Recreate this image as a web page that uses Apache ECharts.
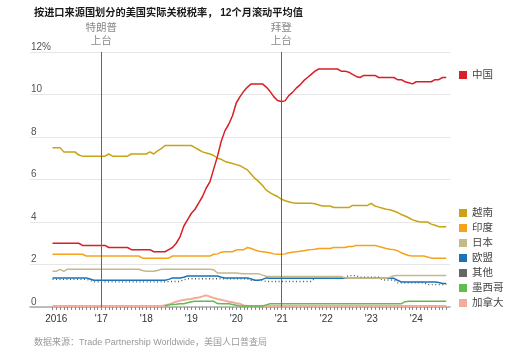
<!DOCTYPE html>
<html><head><meta charset="utf-8">
<script src="https://cdn.jsdelivr.net/npm/echarts@6/dist/echarts.min.js"></script>
<style>html,body{margin:0;padding:0;background:#fff}#c{width:512px;height:351px}</style>
</head><body><div id="c"></div>
<script>
// Monthly data, Dec 2015 .. Sep 2024 (106 months), effective tariff rate %
const dataStart = '2015-12';
const china = [3.0,3.0,3.0,3.0,3.0,3.0,3.0,3.0, 2.9,2.9,2.9,2.9,2.9,2.9,2.9, 2.8,2.8,2.8,2.8,2.8,2.8, 2.7,2.7,2.7,2.7,2.7,2.7, 2.6,2.6,2.6,2.6,
  2.7,2.8,3.0,3.3,3.8,4.1,4.4,4.6,4.9,5.2,
  5.6,5.9,6.5,7.1,7.8,8.3,8.6,9.0,9.6,9.9,
  10.15,10.35,10.5,10.5,10.5,10.5,10.35,10.15,9.9,9.72,
  9.67,9.7,9.95,10.1,10.3,10.45,10.65,10.8,10.95,11.1,
  11.2,11.2,11.2,11.2,11.2,11.2,11.1,11.1,11.05,10.95,
  10.85,10.8,10.9,10.9,10.9,10.9,10.8,10.8,10.8,10.8,
  10.8,10.7,10.7,10.6,10.55,10.5,10.6,10.6,10.6,10.6,
  10.6,10.7,10.7,10.8,10.8];
const vietnam = [7.5,7.5,7.5,7.3,7.3,7.3,7.3,7.15,7.1,7.1,
  7.1,7.1,7.1,7.1,7.1,7.2,7.1,7.1,7.1,7.1,
  7.1,7.2,7.2,7.2,7.2,7.2,7.3,7.2,7.35,7.45,
  7.6,7.6,7.6,7.6,7.6,7.6,7.6,7.6,7.5,7.4,
  7.3,7.25,7.2,7.13,7.0,6.95,6.85,6.8,6.75,6.7,
  6.65,6.55,6.45,6.25,6.05,5.9,5.72,5.5,5.38,5.28,
  5.2,5.08,5.0,4.95,4.91,4.88,4.88,4.88,4.88,4.88,
  4.86,4.8,4.75,4.75,4.75,4.68,4.68,4.68,4.68,4.68,
  4.78,4.78,4.78,4.78,4.78,4.88,4.75,4.7,4.65,4.6,
  4.58,4.52,4.45,4.35,4.28,4.2,4.1,4.05,4.0,4.0,
  4.0,3.9,3.85,3.78,3.78,3.78];
const india = [2.48,2.48,2.48,2.48,2.48,2.48,2.48,2.48,2.48,
  2.4,2.4,2.4,2.4,2.4,2.4,2.4,2.4,2.4,2.4,2.4,2.4,2.4,2.4,2.4,
  2.3,2.3,2.3,2.3,2.3,2.3,2.3,2.3,
  2.4,2.4,2.4,2.4,2.4,2.4,2.4,2.4,2.4,2.4,2.4,
  2.48,2.5,2.58,2.6,2.6,2.6,2.68,2.7,2.7,2.8,2.75,2.68,2.62,2.6,2.58,2.55,2.5,2.48,2.48,2.5,
  2.55,2.58,2.6,2.62,2.65,2.68,2.7,2.72,2.75,2.75,
  2.75,2.75,2.8,2.8,2.8,2.8,2.85,2.85,2.9,2.9,
  2.9,2.9,2.9,2.9,2.85,2.8,2.75,2.72,2.7,2.65,
  2.55,2.48,2.42,2.4,2.4,2.4,2.4,2.35,2.3,2.3,
  2.3,2.3,2.3];
const japan = [1.68,1.68,1.77,1.68,
  1.78,1.78,1.78,1.78,1.78,1.78,1.78,1.78,1.78,1.78,1.78,1.78,1.78,1.78,1.78,1.78,1.78,1.78,1.78,1.78,
  1.72,1.68,1.68,1.68,1.72,
  1.78,1.78,1.78,1.78,1.78,1.78,1.78,1.78,1.78,1.78,1.78,1.78,1.78,1.78,
  1.75,1.6,1.6,1.6,1.6,1.6,1.6,
  1.58,1.56,1.56,1.56,1.56,1.56,1.5,1.45,
  1.44,1.44,1.44,1.44,1.44,1.44,1.44,1.44,1.44,1.44,1.44,1.44,1.44,1.44,1.44,1.44,1.44,1.44,1.44,1.44,
  1.36,1.35,1.35,1.35,1.35,1.35,1.35,1.35,1.35,1.35,1.35,1.35,
  1.4,1.47,
  1.48,1.48,1.48,1.48,1.48,1.48,1.48,1.48,1.48,1.48,1.48,1.48,1.48,1.48];
const eu = [1.37,1.37,1.37,1.37,1.37,1.37,1.37,1.37,1.37,1.37,1.32,
  1.26,1.26,1.26,1.26,1.26,1.26,1.26,1.26,1.26,1.26,1.26,1.26,1.26,1.26,1.26,1.26,1.26,1.26,1.26,1.26,
  1.3,1.37,1.37,1.37,1.4,
  1.46,1.46,1.46,1.46,1.46,1.46,1.46,1.46,1.46,
  1.4,1.37,1.37,1.37,1.37,1.37,1.37,1.37,1.32,1.26,1.26,1.3,1.37,
  1.35,1.35,1.35,1.35,1.35,1.35,1.35,1.35,1.35,1.35,1.35,1.35,1.35,1.35,1.35,1.35,1.35,
  1.35,1.35,1.35,1.35,1.35,1.35,1.35,1.35,1.35,1.35,1.35,1.35,1.35,1.35,1.35,1.35,1.35,
  1.26,1.18,1.18,1.18,1.18,1.18,1.18,1.18,1.18,1.18,1.18,1.15,1.11,1.11];
const other = [1.3,1.3,1.3,1.3,1.3,1.3,1.3,1.3,1.3,1.3,1.25,
  1.18,1.18,1.18,1.18,1.18,1.18,1.18,1.18,1.18,1.18,1.18,1.18,1.18,1.18,1.18,1.18,1.18,1.18,1.18,1.18,
  1.2,1.2,1.2,1.2,1.28,
  1.33,1.33,1.33,1.33,1.33,1.33,1.33,1.33,1.33,
  1.32,1.32,1.32,1.32,1.32,1.32,1.32,1.32,
  1.25,1.25,1.25,1.25,1.2,1.2,1.2,
  1.2,1.2,1.2,1.2,1.2,1.2,1.2,1.2,1.2,1.2,
  1.35,1.35,1.35,1.35,1.35,1.35,1.35,1.35,
  1.4,1.48,1.48,1.48,1.4,1.4,1.4,1.4,1.4,1.4,
  1.27,1.27,1.27,1.27,
  1.14,1.14,1.14,1.14,1.14,1.14,1.14,1.14,
  1.05,1.05,1.05,1.05,1.05,1.05];
const mexico = [null,null,null,null,null,null,null,null,null,null,null,null,null,null,null,
  null,null,null,null,null,null,null,null,null,null,null,null,null,null,null,
  0.05,0.1,0.12,0.13,0.15,0.15,0.2,0.25,
  0.27,0.27,0.27,0.27,0.27,0.27,0.16,0.15,0.15,0.15,0.12,0.08,
  0.05,0.05,0.05,0.05,0.05,0.05,0.05,0.1,
  0.15,0.15,0.15,0.15,0.15,0.15,0.15,0.15,0.15,0.15,0.15,0.15,0.15,0.15,0.15,0.15,0.15,0.15,
  0.15,0.15,0.15,0.15,0.15,0.15,0.15,0.15,0.15,0.15,0.15,0.15,0.15,0.15,0.15,0.15,0.15,0.15,
  0.25,0.27,0.27,0.27,0.27,0.27,0.27,0.27,0.27,0.27,0.27,0.27];
const canada = [0.05,0.05,0.05,0.05,0.05,0.05,0.05,0.05,0.05,0.05,0.05,0.05,0.05,0.05,0.05,
  0.05,0.05,0.05,0.05,0.05,0.05,0.05,0.05,0.05,0.05,0.05,0.05,0.05,0.05,0.05,
  0.08,0.12,0.18,0.25,0.3,0.33,0.36,0.38,0.42,0.45,0.5,0.55,0.48,0.43,0.38,0.34,0.3,0.25,0.22,0.18,0.15,0.07,
  0.05,0.05,0.05,0.05,0.05,0.05,0.05,0.05,0.05,0.05,0.05,0.05,0.05,0.05,0.05,0.05,0.05,0.05,
  0.05,0.05,0.05,0.05,0.05,0.05,0.05,0.05,0.05,0.05,0.05,0.05,0.05,0.05,0.05,0.05,0.05,0.05,
  0.05,0.05,0.05,0.05,0.05,0.05,0.05,0.05,0.05,0.05,0.05,0.05,0.05,0.05,0.05,0.05,0.05,0.05];
const seriesNames = ['中国','越南','印度','日本','欧盟','其他','墨西哥','加拿大'];
const events = [{month:'2017-01', label:'特朗普\n上台'}, {month:'2021-01', label:'拜登\n上台'}];
const titleText = '按进口来源国划分的美国实际关税税率， 12个月滚动平均值';
const sourceText = '数据来源：Trade Partnership Worldwide，美国人口普查局';

// axis categories: Jun 2015 .. Oct 2024
const months = [];
for (let y = 2015, m = 6; y < 2024 || (y === 2024 && m <= 10); ) {
  months.push(y + '-' + String(m).padStart(2, '0'));
  m++; if (m > 12) { m = 1; y++; }
}
const startIdx = months.indexOf(dataStart);
function pad(arr) {
  const out = new Array(months.length).fill(null);
  arr.forEach((v, i) => { out[startIdx + i] = v; });
  return out;
}
const FONT = '"Liberation Sans", Arial, "Noto Sans CJK SC", sans-serif';
const colors = {'中国':'#d81f26','越南':'#c8a315','印度':'#f7a21b','日本':'#c4b98a','欧盟':'#1b72b5','其他':'#666666','墨西哥':'#62bb4e','加拿大':'#f5ab9c'};
function line(name, data, extra) {
  return Object.assign({
    name, type:'line', data: pad(data), showSymbol:false, symbol:'none', connectNulls:false,
    color: colors[name], itemStyle:{color: colors[name]},
    lineStyle:{color: colors[name], width:1.5}, animation:false
  }, extra || {});
}
const legendText = {fontSize:10.5, color:'#444', lineHeight:12, fontFamily: FONT};
const chart = echarts.init(document.getElementById('c'));
chart.setOption({
  animation:false,
  textStyle:{fontFamily: FONT},
  title:[
    {text: titleText, left:29, top:3, textStyle:{fontSize:10.2, fontWeight:'bold', color:'#1a1a1a', fontFamily: FONT}},
    {text: sourceText, left:29, top:333, textStyle:{fontSize:9, fontWeight:'normal', color:'#999', fontFamily: FONT}}
  ],
  grid:{left:30, right:62, top:52, bottom:44},
  legend:[
    {data:['中国'], orient:'vertical', left:459, top:69, padding:0, icon:'rect', itemWidth:8, itemHeight:8, itemGap:3,
     textStyle: legendText, itemStyle:{borderWidth:0}, selectedMode:false},
    {data:['越南','印度','日本','欧盟','其他','墨西哥','加拿大'], orient:'vertical', left:459, top:207, padding:0, icon:'rect',
     itemWidth:8, itemHeight:8, itemGap:3, textStyle: legendText, itemStyle:{borderWidth:0}, selectedMode:false}
  ],
  xAxis:{type:'category', data: months, boundaryGap:false,
    axisLine:{lineStyle:{color:'#aaa', width:1.5}},
    axisTick:{show:true, length:3, interval:(i) => i >= startIdx && i < startIdx + china.length, lineStyle:{color:'#888'}},
    axisLabel:{interval:(i, v) => v.endsWith('-01'), margin:7, fontSize:10, color:'#333',
      formatter:(v) => { const y = v.slice(0,4); return y === '2016' ? '2016' : "'" + y.slice(2); }},
    splitLine:{show:false}},
  yAxis:{type:'value', min:0, max:12, interval:2,
    axisLine:{show:false}, axisTick:{show:false},
    splitLine:{lineStyle:{color:'#e6e6e6', width:1}},
    axisLabel:{inside:true, margin:1, verticalAlign:'bottom', fontSize:10, color:'#555',
      formatter:(v) => v === 12 ? '12%' : String(v)}},
  series:[
    line('加拿大', canada, {lineStyle:{color:colors['加拿大'], width:2}}),
    line('墨西哥', mexico),
    line('其他', other, {lineStyle:{color:'#555', width:1.3, type:[1,2.5]}}),
    line('欧盟', eu),
    line('日本', japan),
    line('印度', india),
    line('越南', vietnam),
    line('中国', china, {markLine:{silent:true, symbol:['none','none'], animation:false,
      lineStyle:{color:'#666', width:1, type:'solid'},
      label:{show:true, position:'end', formatter:'{b}', color:'#888', fontSize:10.5, lineHeight:13, distance:4, fontFamily: FONT},
      data: events.map(e => ({xAxis: e.month, name: e.label}))}})
  ]
});
</script></body></html>
